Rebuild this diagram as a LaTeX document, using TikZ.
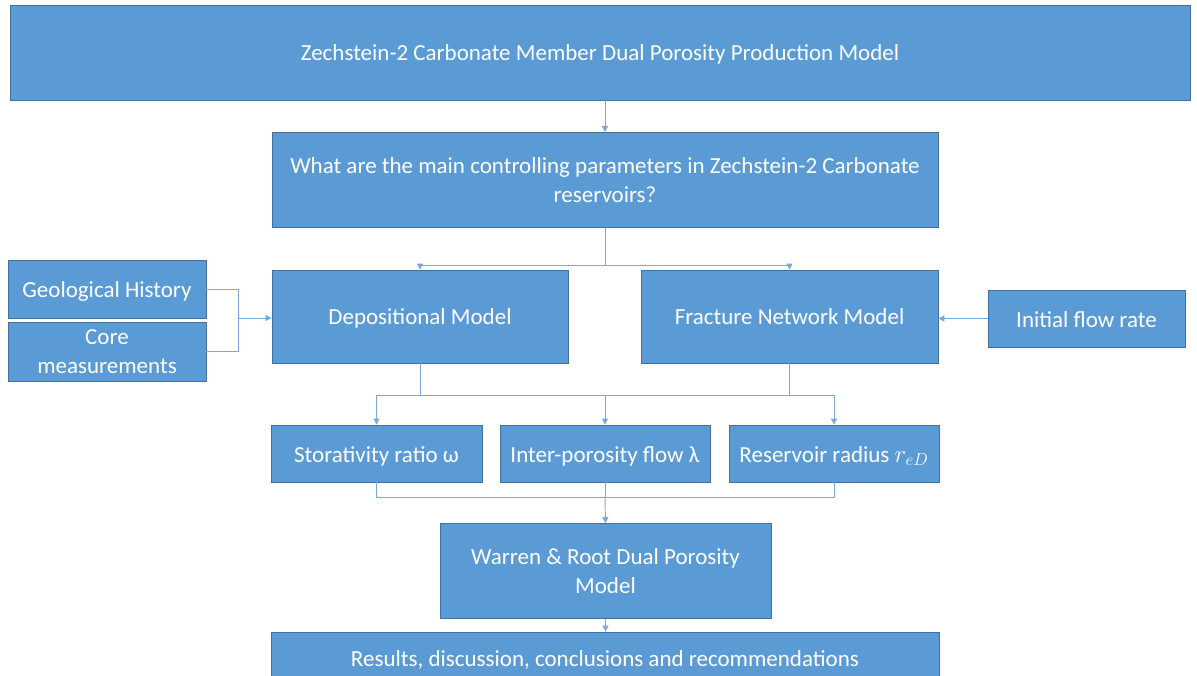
\documentclass[tikz,border=0pt]{standalone}
\usepackage{fontspec}
\setmainfont{Carlito}
\usetikzlibrary{arrows.meta}
\definecolor{boxfill}{RGB}{91,155,213}
\definecolor{boxedge}{RGB}{65,113,156}
\definecolor{linkc}{RGB}{120,170,215}
\tikzset{
  blk/.style={draw=boxedge, line width=0.8pt, fill=boxfill, text=white, align=center,
    inner sep=0pt, font=\fontsize{23}{28.5}\selectfont},
  one/.style={text height=17pt, text depth=0pt},
  link/.style={draw=linkc, line width=0.9pt},
  arr/.style={link, -{Triangle[length=6pt,width=6pt]}}
}
\begin{document}
\begin{tikzpicture}[x=1pt,y=-1pt]
\useasboundingbox (0,0) rectangle (1197,676);
\clip (0,0) rectangle (1197,676);
\fill[white] (0,0) rectangle (1197,676);
% boxes
\node[blk, one, minimum width=1180, minimum height=95] (top) at (600,52.5) {Zechstein-2 Carbonate Member Dual Porosity Production Model};
\node[blk, minimum width=666, minimum height=95] (q) at (605,180) {What are the main controlling parameters in Zechstein-2 Carbonate\\reservoirs?};
\node[blk, one, minimum width=296, minimum height=93] (dep) at (420,316.5) {Depositional Model};
\node[blk, one, minimum width=297, minimum height=93] (frac) at (789.5,316.5) {Fracture Network Model};
\node[blk, one, minimum width=198, minimum height=58] (geo) at (107,289) {Geological History};
\node[blk, minimum width=198, minimum height=59] (core) at (107,351.5) {Core\\measurements};
\node[blk, one, minimum width=197, minimum height=57] (ifr) at (1086.5,318.5) {Initial flow rate};
\node[blk, one, minimum width=211, minimum height=57] (stor) at (376.5,453.5) {Storativity ratio ω};
\node[blk, one, minimum width=210, minimum height=57] (inter) at (605,453.5) {Inter-porosity flow λ};
\node[blk, one, minimum width=210, minimum height=57] (res) at (834,453.5) {Reservoir radius {\fontsize{26}{28}\selectfont$r_{eD}$}};
\node[blk, minimum width=331, minimum height=95] (wr) at (605.5,571) {Warren \& Root Dual Porosity\\Model};
\node[blk, minimum width=668, minimum height=60] (resu) at (605,662) {};
\node[text=white, font=\fontsize{23}{28}\selectfont, anchor=base] (resutxt) at (605,666) {Results, discussion, conclusions and recommendations};
% connectors
\coordinate (jq) at (605,265);
\coordinate (jd) at (605,395);
\coordinate (jb) at (605,497);
\coordinate (jl) at (238,318);
\draw[arr] (top.south -| q.north) -- (q.north);
\draw[link] (q.south) -- (jq);
\draw[arr] (jq) -| (dep.north);
\draw[arr] (jq) -| (frac.north);
\draw[link] (geo.east) -| (jl);
\draw[link] (core.east) -| (jl);
\draw[arr] (jl) -- (dep.west |- jl);
\draw[arr] (ifr.west) -- (frac.east |- ifr.west);
\draw[link] (dep.south) |- (jd);
\draw[link] (frac.south) |- (jd);
\draw[arr] (jd) -| (stor.north);
\draw[arr] (jd) -- (inter.north);
\draw[arr] (jd) -| (res.north);
\draw[link] (stor.south) |- (jb);
\draw[link] (res.south) |- (jb);
\draw[link] (inter.south) -- (jb);
\draw[arr] (jb) -- (wr.north);
\draw[arr] (wr.south) -- (wr.south |- resu.north);
\end{tikzpicture}
\end{document}
